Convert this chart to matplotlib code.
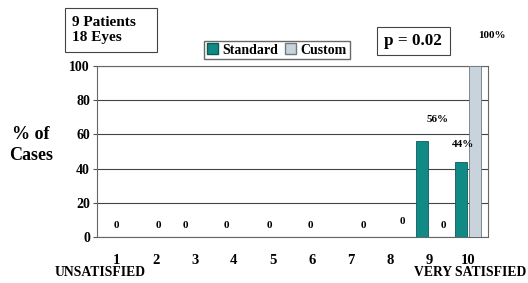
import numpy as np
import matplotlib
matplotlib.use("Agg")
import matplotlib.pyplot as plt
from matplotlib.patches import Patch, Rectangle

plt.rcParams["font.family"] = ["Liberation Serif", "DejaVu Serif"]
plt.rcParams["font.weight"] = "bold"

scores = [1, 2, 3, 4, 5, 6, 7, 8, 9, 10]
standard = [0, 0, 0, 0, 0, 0, 0, 0, 56, 44]
custom = [0, 0, 0, 0, 0, 0, 0, 0, 0, 100]
value_labels = ["0", "0", "0", "0", "0", "0", "0", "0", "0", "56%", "44%", "100%"]
label_pos = [(0.99, 6.5), (2.06, 6.5), (2.76, 7), (3.81, 7), (4.91, 6.5), (5.96, 6.5),
             (7.32, 6.5), (8.32, 9), (9.37, 6.5), (9.22, 69), (9.85, 54), (10.6, 118)]

teal = "#118a86"
gray = "#c9d3dc"

W, H = 528, 283
fig = plt.figure(figsize=(5.28, 2.83), dpi=100)
ax = fig.add_axes([97 / W, 1 - 237 / H, 391 / W, 171 / H])

x = np.array(scores)
w = 0.31
ax.bar(x - 0.18, standard, w, color=teal, edgecolor="#0b5c59", linewidth=0.6, zorder=3)
ax.bar(x + 0.17, custom, w, color=gray, edgecolor="#6f7a82", linewidth=0.6, zorder=3)

ax.set_xlim(0.5, 10.5)
ax.set_ylim(0, 100)
ax.set_yticks([0, 20, 40, 60, 80, 100])
ax.set_xticks(scores)
ax.tick_params(axis="y", labelsize=10, length=3, color="#555555", pad=2)
ax.tick_params(axis="x", labelsize=10.5, length=0, pad=12)
for lab in ax.get_xticklabels() + ax.get_yticklabels():
    lab.set_fontweight("bold")
ax.yaxis.grid(True, color="#444444", linewidth=0.8, zorder=0)
for s in ax.spines.values():
    s.set_color("#666666")
    s.set_linewidth(0.8)

for t, (px, py) in zip(value_labels, label_pos):
    ax.text(px, py, t, ha="center", va="center", fontsize=8, fontweight="bold",
            clip_on=False, zorder=5)

fig.text(31 / W, 1 - 145 / H, "% of\nCases", ha="center", va="center",
         fontsize=13, fontweight="bold", linespacing=1.25)
fig.text(100 / W, 1 - 272 / H, "UNSATISFIED", ha="center", va="center",
         fontsize=9.8, fontweight="bold")
fig.text(470 / W, 1 - 272 / H, "VERY SATISFIED", ha="center", va="center",
         fontsize=9.8, fontweight="bold")

fig.patches.append(Rectangle((65 / W, 1 - 52 / H), 92 / W, 44 / H, transform=fig.transFigure,
                             fc="white", ec="#444444", lw=0.8))
fig.text(72 / W, 1 - 30 / H, "9 Patients\n18 Eyes", ha="left", va="center",
         fontsize=11, fontweight="bold", linespacing=1.15)
fig.patches.append(Rectangle((377 / W, 1 - 55 / H), 73 / W, 28 / H, transform=fig.transFigure,
                             fc="white", ec="#444444", lw=0.8))
fig.text(413 / W, 1 - 41 / H, "p = 0.02", ha="center", va="center",
         fontsize=12.3, fontweight="bold")

handles = [Patch(facecolor=teal, edgecolor="#0b5c59", label="Standard"),
           Patch(facecolor=gray, edgecolor="#6f7a82", label="Custom")]
fig.legend(handles=handles, loc="center", bbox_to_anchor=(277 / W, 1 - 50 / H),
           ncol=2, frameon=True, fancybox=False, edgecolor="#444444",
           handlelength=0.8, handleheight=0.8, handletextpad=0.3, columnspacing=0.5,
           borderpad=0.2, prop={"weight": "bold", "size": 10})

fig.savefig("out.png", dpi=100)
